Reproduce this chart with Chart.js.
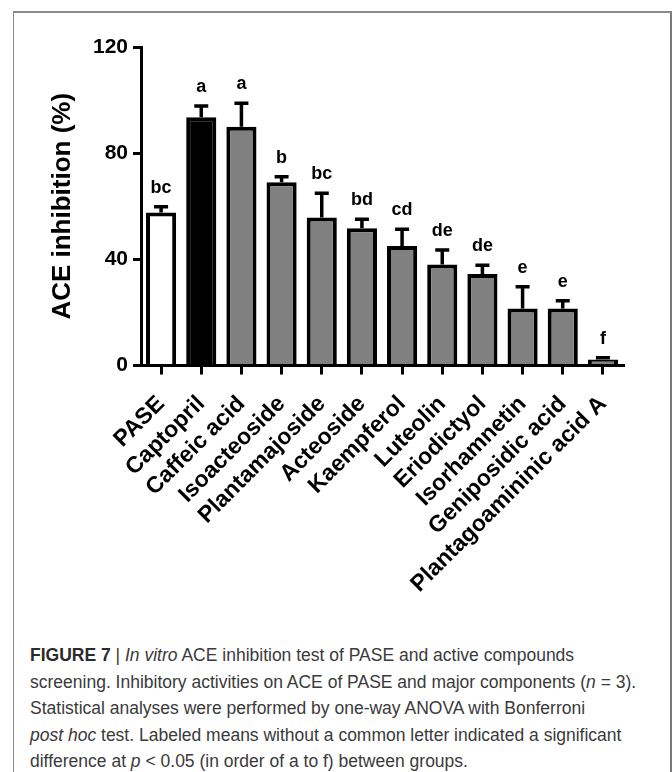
<!DOCTYPE html>
<html>
<head>
<meta charset="utf-8">
<script src="https://cdn.jsdelivr.net/npm/chart.js@4.4.0/dist/chart.umd.min.js"></script>
<style>
  html, body { margin: 0; padding: 0; background: #fff; }
  body { width: 672px; height: 772px; position: relative; overflow: hidden; }
  #frame { position: absolute; left: 13px; top: 11px; width: 656px; height: 800px;
           border-left: 1px solid #8a8a8a; border-top: 2px solid #8a8a8a; border-right: 2px solid #7a7a7a; }
  #wrap { position: absolute; left: 0; top: 0; width: 672px; height: 630px; }
  #caption { position: absolute; left: 30px; top: 642px; width: 640px;
             font-family: Arial, "Liberation Sans", sans-serif; font-size: 17.5px; line-height: 26.5px;
             color: #3a3a3a; white-space: nowrap; }
  #caption b { color: #2a2a2a; }
</style>
</head>
<body>
<div id="frame"></div>
<div id="wrap"><canvas id="c"></canvas></div>
<div id="caption">
<b>FIGURE 7</b> | <i>In vitro</i> ACE inhibition test of PASE and active compounds<br>
screening. Inhibitory activities on ACE of PASE and major components (<i>n</i> = 3).<br>
Statistical analyses were performed by one-way ANOVA with Bonferroni<br>
<i>post hoc</i> test. Labeled means without a common letter indicated a significant<br>
difference at <i>p</i> &lt; 0.05 (in order of a to f) between groups.
</div>
<script>
const categories = ["PASE", "Captopril", "Caffeic acid", "Isoacteoside", "Plantamajoside", "Acteoside",
  "Kaempferol", "Luteolin", "Eriodictyol", "Isorhamnetin", "Geniposidic acid", "Plantagoamininic acid A"];
const means = [57.6, 93.5, 90.0, 69.0, 55.8, 51.7, 45.0, 38.1, 34.5, 21.5, 21.5, 2.3];
const errors = [2.2, 4.3, 8.8, 2.1, 9.1, 3.4, 6.3, 5.4, 3.3, 8.2, 2.9, 0.6];
const letters = ["bc", "a", "a", "b", "bc", "bd", "cd", "de", "de", "e", "e", "f"];
const barColors = ["#ffffff", "#000000", "#808080", "#808080", "#808080", "#808080",
  "#808080", "#808080", "#808080", "#808080", "#808080", "#808080"];
const yTicks = [0, 40, 80, 120];

const FONT = 'Arial, "Liberation Sans", sans-serif';

const errorBarPlugin = {
  id: 'errorBars',
  afterDatasetsDraw(chart) {
    const ctx = chart.ctx;
    const meta = chart.getDatasetMeta(0);
    const yScale = chart.scales.y;
    ctx.save();
    ctx.strokeStyle = '#000';
    ctx.fillStyle = '#000';
    ctx.lineWidth = 3.5;
    ctx.lineCap = 'butt';
    meta.data.forEach((bar, i) => {
      const yTop = yScale.getPixelForValue(means[i] + errors[i]);
      const x = bar.x;
      ctx.beginPath();
      ctx.moveTo(x, bar.y);
      ctx.lineTo(x, yTop);
      ctx.moveTo(x - 7, yTop);
      ctx.lineTo(x + 7, yTop);
      ctx.stroke();
      ctx.font = 'bold 18px ' + FONT;
      ctx.textAlign = 'center';
      ctx.textBaseline = 'alphabetic';
      ctx.fillText(letters[i], x, yTop - 14);
    });
    ctx.restore();
  }
};

new Chart(document.getElementById('c'), {
  type: 'bar',
  data: {
    labels: categories,
    datasets: [{
      data: means,
      backgroundColor: barColors,
      borderColor: '#000',
      borderWidth: 4,
      barPercentage: 0.75,
      categoryPercentage: 1.0
    }]
  },
  options: {
    responsive: true,
    maintainAspectRatio: false,
    animation: false,
    layout: { padding: { top: 47, right: 49, left: 0, bottom: 0 } },
    plugins: { legend: { display: false }, tooltip: { enabled: false } },
    scales: {
      x: {
        afterFit(scale) { scale.height = 630 - 365.5; },
        grid: { display: true, offset: false, drawOnChartArea: false, drawTicks: true,
                tickLength: 9, lineWidth: 3, color: '#000' },
        border: { display: true, color: '#000', width: 3 },
        ticks: { autoSkip: false, minRotation: 45, maxRotation: 45, padding: 16,
                 color: '#000', font: { family: FONT, size: 23, weight: 'bold' } }
      },
      y: {
        min: 0, max: 120,
        afterFit(scale) { scale.width = 141; },
        afterBuildTicks(scale) { scale.ticks = yTicks.map(v => ({ value: v })); },
        grid: { display: true, drawOnChartArea: false, drawTicks: true,
                tickLength: 8, lineWidth: 3, color: '#000' },
        border: { display: true, color: '#000', width: 3 },
        ticks: { padding: 5, color: '#000', font: { family: FONT, size: 21, weight: 'bold' } },
        title: { display: true, text: 'ACE inhibition (%)', color: '#000',
                 padding: { top: 47, bottom: 0 },
                 font: { family: FONT, size: 26, weight: 'bold' } }
      }
    }
  },
  plugins: [errorBarPlugin]
});
</script>
</body>
</html>
